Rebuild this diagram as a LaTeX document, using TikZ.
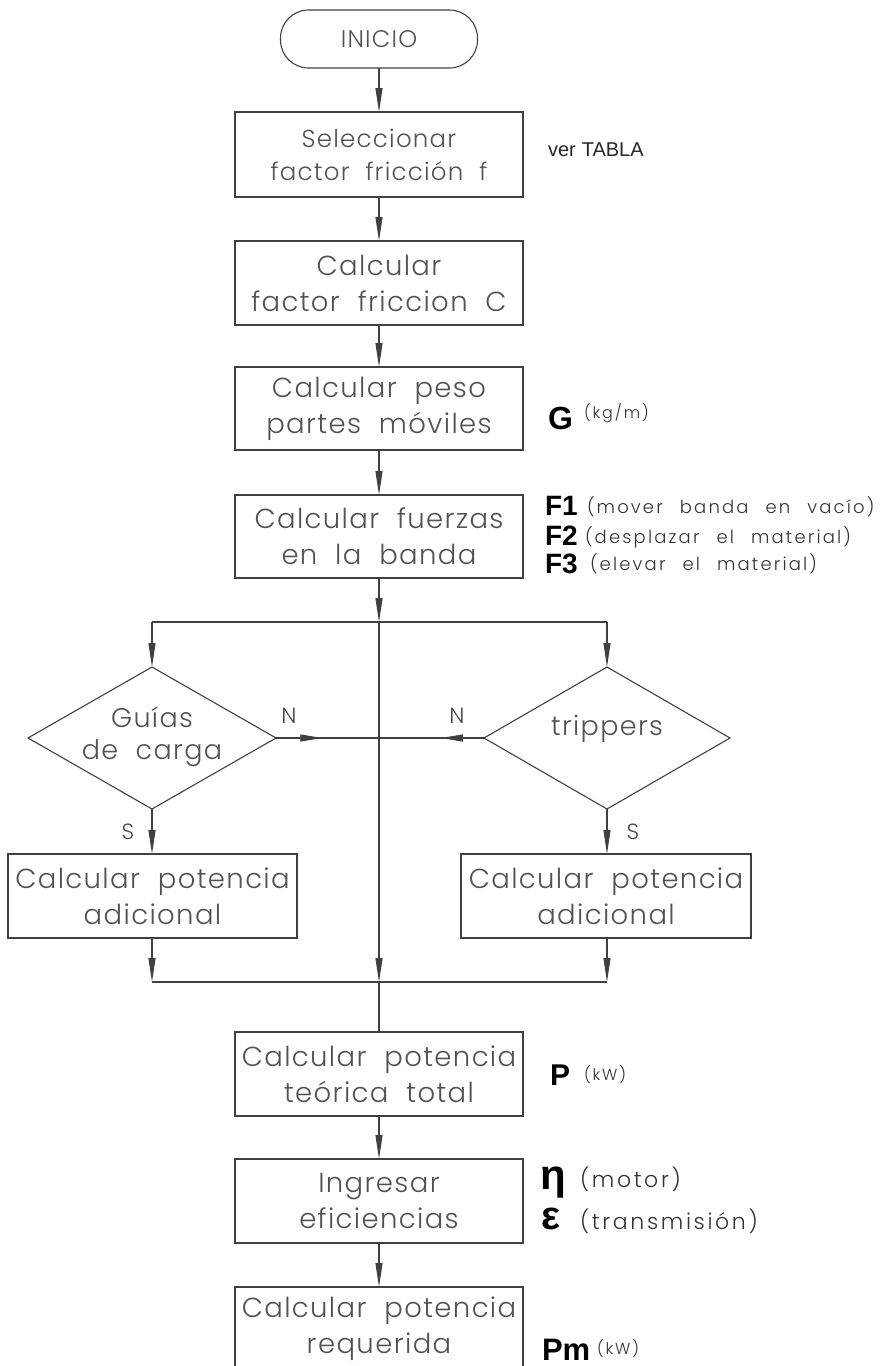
\documentclass[tikz,border=0pt]{standalone}
\usepackage{fontspec}
\usetikzlibrary{arrows.meta,decorations.markings}
\newfontfamily\thinfont{Poppins Light}[LetterSpace=5,WordSpace=2]
\newfontfamily\unitthin{Poppins Light}[LetterSpace=12,WordSpace=2.4]
\newfontfamily\labfont{Liberation Sans}
\newcommand\bxfont{\thinfont\fontsize{27.5}{36}\selectfont}
\newcommand\unitfont[1]{\unitthin\fontsize{#1}{#1}\selectfont}
\newcommand\symfont[1]{\labfont\bfseries\fontsize{#1}{#1}\selectfont}
\begin{document}
\begin{tikzpicture}[x=1pt,y=-1pt,
  every node/.style={inner sep=0pt, outer sep=0pt},
  ln/.style={draw=black!75, line width=1.1pt},
  tip/.style={-{Triangle[length=24pt,width=7pt]}},
  stepbox/.style={ln, rectangle, minimum width=288pt, minimum height=84pt,
                  align=center, text=black!68, font=\bxfont},
  termbox/.style={ln, rectangle, rounded corners=28pt, minimum width=197pt,
                  minimum height=58pt, text=black!68,
                  font=\thinfont\fontsize{24}{30}\selectfont},
  dtext/.style={align=center, text=black!68,
                font=\thinfont\fontsize{27}{32}\selectfont},
  yn/.style={text=black!72, font=\thinfont\fontsize{22}{22}\selectfont},
  sym/.style={anchor=base west, text=black},
  unit/.style={anchor=base west, text=black!80},
  midtip/.style={postaction={decorate}, decoration={markings,
      mark=at position #1 with {\arrow{Triangle[length=22pt,width=7pt]}}}}
]
\useasboundingbox (0,0) rectangle (887,1366);

% main column
\node[termbox]  (inicio) at (379,39)    {INICIO};
\node[stepbox, minimum height=85pt, font=\thinfont\fontsize{24.5}{33}\selectfont]
                (sel)    at (379,154.5) {Seleccionar\\factor fricción f};
\node[stepbox]  (fc)     at (379,283)   {Calcular\\factor friccion C};
\node[stepbox, minimum height=83pt]  (peso)   at (379,408.5) {Calcular peso\\partes móviles};
\node[stepbox, minimum height=83pt]  (fuer)   at (379,536.5) {Calcular fuerzas\\en la banda};
\node[stepbox]  (pteo)   at (379,1074)  {Calcular potencia\\teórica total};
\node[stepbox]  (efic)   at (379,1201)  {Ingresar\\eficiencias};
\node[stepbox]  (preq)   at (379,1329)  {Calcular potencia\\requerida};

% junctions on the main column
\coordinate (split) at (379,622);
\coordinate (splitL) at (152,622);
\coordinate (splitR) at (607,622);
\coordinate (merge) at (379,982);
\coordinate (mergeL) at (152,982);
\coordinate (mergeR) at (607,982);

% decisions
\coordinate (gt) at (152,667);
\coordinate (gl) at (28,738);
\coordinate (gr) at (276,738);
\coordinate (gb) at (152,809);
\node[dtext] (guias) at (152,737) {Guías\\de carga};
\coordinate (tt) at (607,667);
\coordinate (tl) at (484,738);
\coordinate (tr) at (730,738);
\coordinate (tb) at (607,809);
\node[dtext] (trip) at (607,729) {trippers};
\draw[ln] (gt) -- (gr) -- (gb) -- (gl) -- cycle;
\draw[ln] (tt) -- (tr) -- (tb) -- (tl) -- cycle;
\coordinate (nL) at (379,738);
\coordinate (nR) at (379,738);

% side boxes
\node[stepbox, minimum width=289pt] (adL) at (152.5,896) {Calcular potencia\\adicional};
\node[stepbox, minimum width=290pt] (adR) at (606,896)   {Calcular potencia\\adicional};

% connectors
\draw[ln, tip] (inicio) -- (sel);
\draw[ln, tip] (sel) -- (fc);
\draw[ln, tip] (fc) -- (peso);
\draw[ln, tip] (peso) -- (fuer);
\draw[ln, tip] (fuer) -- (split);
\draw[ln] (splitL) -- (splitR);
\draw[ln, tip] (splitL) -- (gt);
\draw[ln, tip] (splitR) -- (tt);
\draw[ln, tip] (split) -- (merge);
\draw[ln, midtip=0.45] (gr) -- (nL);
\draw[ln, midtip=0.41] (tl) -- (nR);
\draw[ln, tip] (gb) -- (adL.north -| gb);
\draw[ln, tip] (tb) -- (adR.north -| tb);
\draw[ln, tip] (adL.south -| mergeL) -- (mergeL);
\draw[ln, tip] (adR.south -| mergeR) -- (mergeR);
\draw[ln] (mergeL) -- (mergeR);
\draw[ln] (merge) -- (pteo);
\draw[ln, tip] (pteo) -- (efic);
\draw[ln, tip] (efic) -- (preq);

% branch labels
\node[yn] (nlabL) at (289,716) {N};
\node[yn] (nlabR) at (457,716) {N};
\node[yn] (slabL) at (128,832) {S};
\node[yn] (slabR) at (633,832) {S};

% side notes
\node[anchor=base west, text=black!85, font=\labfont\fontsize{20}{20}\selectfont] (tabla) at (548,156) {ver\hspace{6pt}TABLA};
\node[sym] (gsym) at (548,429) {\symfont{32}G};
\node[unit] (gun) at (584,418) {\unitfont{16}(kg/m)};
\node[sym] (f1sym) at (545,515) {\symfont{28}F1};
\node[unit] (f1un) at (587,513) {\unitfont{18}(mover banda en vacío)};
\node[sym] (f2sym) at (545,545) {\symfont{28}F2};
\node[unit] (f2un) at (585,543) {\unitfont{18}(desplazar el material)};
\node[sym] (f3sym) at (545,573) {\symfont{28}F3};
\node[unit] (f3un) at (590,570) {\unitfont{18}(elevar el material)};
\node[sym] (psym) at (550,1085) {\symfont{30}P};
\node[unit] (pun) at (584,1080) {\unitfont{16}(kW)};
\node[sym] (etasym) at (540,1189) {\symfont{42}η};
\node[unit] (etaun) at (580,1187) {\unitfont{22}(motor)};
\node[sym] (epssym) at (541,1229) {\symfont{40}ε};
\node[unit] (epsun) at (580,1229) {\unitfont{22}(transmisión)};
\node[sym] (pmsym) at (542,1360) {\symfont{31}Pm};
\node[unit] (pmun) at (597,1354) {\unitfont{16}(kW)};
\end{tikzpicture}
\end{document}
